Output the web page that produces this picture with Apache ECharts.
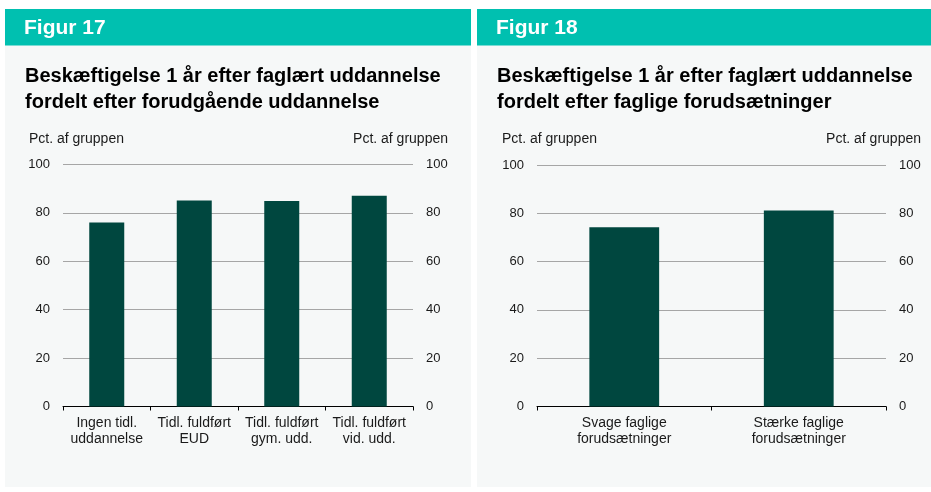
<!DOCTYPE html>
<html><head><meta charset="utf-8">
<script src="https://cdn.jsdelivr.net/npm/echarts@6/dist/echarts.min.js"></script>
<style>html,body{margin:0;padding:0;background:#fff}#c{width:931px;height:492px}</style>
</head><body><div id="c"></div>
<script>
const cats17 = ['Ingen tidl.\nuddannelse', 'Tidl. fuldført\nEUD', 'Tidl. fuldført\ngym. udd.', 'Tidl. fuldført\nvid. udd.'];
const vals17 = [76, 85.1, 84.9, 87.1];
const cats18 = ['Svage faglige\nforudsætninger', 'Stærke faglige\nforudsætninger'];
const vals18 = [74.2, 81.2];
const yTicks = [0, 20, 40, 60, 80, 100];
const fig17Label = 'Figur 17';
const fig18Label = 'Figur 18';
const title17 = 'Beskæftigelse 1 år efter faglært uddannelse\nfordelt efter forudgående uddannelse';
const title18 = 'Beskæftigelse 1 år efter faglært uddannelse\nfordelt efter faglige forudsætninger';
const axisName = 'Pct. af gruppen';

const FONT = '"Liberation Sans", Arial, sans-serif';
const TEAL = '#00c0b0', BG = '#f6f8f8', BAR = '#00473f', TXT = '#1a1a1a';

const chart = echarts.init(document.getElementById('c'), null, {renderer: 'canvas'});

function yAxes(gi) {
  const base = {
    type: 'value', gridIndex: gi, min: yTicks[0], max: yTicks[yTicks.length - 1], interval: 20,
    axisLine: {show: false}, axisTick: {show: false},
    axisLabel: {color: TXT, fontSize: 13, fontFamily: FONT, margin: 13}
  };
  return [
    Object.assign({}, base, {position: 'left', splitLine: {show: true, lineStyle: {color: '#a6a6a6', width: 1}}}),
    Object.assign({}, base, {position: 'right', splitLine: {show: false}})
  ];
}
function xAxis(gi, cats) {
  return {
    type: 'category', gridIndex: gi, data: cats,
    axisLine: {show: true, lineStyle: {color: '#000', width: 1}},
    axisTick: {show: true, length: 4, lineStyle: {color: '#000'}},
    axisLabel: {color: TXT, fontSize: 14, fontFamily: FONT, lineHeight: 16.5, margin: 8, interval: 0}
  };
}

function panel(x, w, fig, title, gl, gr) {
  return [
    {type: 'rect', shape: {x: x, y: 45, width: w, height: 442}, style: {fill: BG}, z: -10},
    {type: 'rect', shape: {x: x, y: 9, width: w, height: 36.5}, style: {fill: TEAL}, z: -9},
    {type: 'text', x: x + 19, y: 28, style: {text: fig, fill: '#fff', font: 'bold 21px ' + FONT, verticalAlign: 'middle'}},
    {type: 'text', x: x + 20, y: 63, style: {text: title, fill: '#000', font: 'bold 20px ' + FONT, lineHeight: 26, verticalAlign: 'top'}},
    {type: 'text', x: gl, y: 139, style: {text: axisName, fill: TXT, font: '14px ' + FONT, verticalAlign: 'middle', align: 'left'}},
    {type: 'text', x: gr, y: 139, style: {text: axisName, fill: TXT, font: '14px ' + FONT, verticalAlign: 'middle', align: 'right'}}
  ];
}

const ya1 = yAxes(0), ya2 = yAxes(1);
chart.setOption({
  animation: false,
  backgroundColor: '#fff',
  graphic: [].concat(panel(5, 466, fig17Label, title17, 29, 448), panel(477, 454, fig18Label, title18, 502, 921)),
  grid: [
    {left: 63, width: 350, top: 164.5, height: 242, containLabel: false},
    {left: 537, width: 349, top: 165, height: 241.5, containLabel: false}
  ],
  xAxis: [xAxis(0, cats17), xAxis(1, cats18)],
  yAxis: [ya1[0], ya1[1], ya2[0], ya2[1]],
  series: [
    {type: 'bar', xAxisIndex: 0, yAxisIndex: 0, data: vals17, barWidth: '40%', itemStyle: {color: BAR}},
    {type: 'bar', xAxisIndex: 1, yAxisIndex: 2, data: vals18, barWidth: '40%', itemStyle: {color: BAR}}
  ]
});
</script></body></html>
